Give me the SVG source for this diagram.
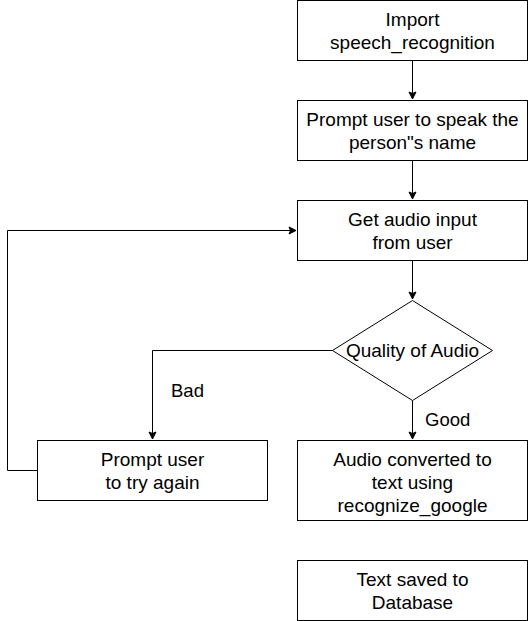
<svg xmlns="http://www.w3.org/2000/svg" width="528" height="621" viewBox="0 0 528 621">
<style>
.n{fill:#fff;stroke:#000;stroke-width:1}
.t{font-family:"Liberation Sans",Arial,Helvetica,sans-serif;font-size:19px;fill:#000;text-anchor:middle}
.l{font-family:"Liberation Sans",Arial,Helvetica,sans-serif;font-size:18.5px;fill:#000}
.e{fill:none;stroke:#000;stroke-width:1}
</style>
<defs>
<marker id="a" markerUnits="userSpaceOnUse" markerWidth="10" markerHeight="10" viewBox="-8 -5 10 10" refX="0" refY="0" orient="auto">
<path d="M0,0 L-7,-3.5 L-5.5,0 L-7,3.5 Z" fill="#000" stroke="#000" stroke-width="1"/>
</marker>
</defs>
<g id="connectors">
<path class="e" d="M412.5,60.5 V99" marker-end="url(#a)"/>
<path class="e" d="M412.5,160.5 V199" marker-end="url(#a)"/>
<path class="e" d="M412.5,260.5 V299" marker-end="url(#a)"/>
<path class="e" d="M332.5,350.5 H152.5 V439" marker-end="url(#a)"/>
<path class="e" d="M412.5,400.5 V439" marker-end="url(#a)"/>
<path class="e" d="M37.5,470.5 H7.5 V230.5 H296" marker-end="url(#a)"/>
<text class="l" x="171" y="397">Bad</text>
<text class="l" x="425" y="426">Good</text>
</g>
<g id="import">
<rect class="n" x="297.5" y="0.5" width="230" height="60"/>
<text class="t" x="412.5" y="26">Import</text>
<text class="t" x="412.5" y="49">speech_recognition</text>
</g>
<g id="prompt-name">
<rect class="n" x="297.5" y="100.5" width="230" height="60"/>
<text class="t" x="412.5" y="126">Prompt user to speak the</text>
<text class="t" x="412.5" y="149">person"s name</text>
</g>
<g id="get-audio">
<rect class="n" x="297.5" y="200.5" width="230" height="60"/>
<text class="t" x="412.5" y="226">Get audio input</text>
<text class="t" x="412.5" y="249">from user</text>
</g>
<g id="quality">
<path class="n" d="M412.5,300.5 L492.5,350.5 L412.5,400.5 L332.5,350.5 Z"/>
<text class="t" x="412.5" y="357">Quality of Audio</text>
</g>
<g id="try-again">
<rect class="n" x="37.5" y="440.5" width="230" height="60"/>
<text class="t" x="152.5" y="466">Prompt user</text>
<text class="t" x="152.5" y="489">to try again</text>
</g>
<g id="convert">
<rect class="n" x="297.5" y="440.5" width="230" height="80"/>
<text class="t" x="412.5" y="466">Audio converted to</text>
<text class="t" x="412.5" y="489">text using</text>
<text class="t" x="412.5" y="512">recognize_google</text>
</g>
<g id="save">
<rect class="n" x="297.5" y="560.5" width="230" height="60"/>
<text class="t" x="412.5" y="586">Text saved to</text>
<text class="t" x="412.5" y="609">Database</text>
</g>
</svg>
